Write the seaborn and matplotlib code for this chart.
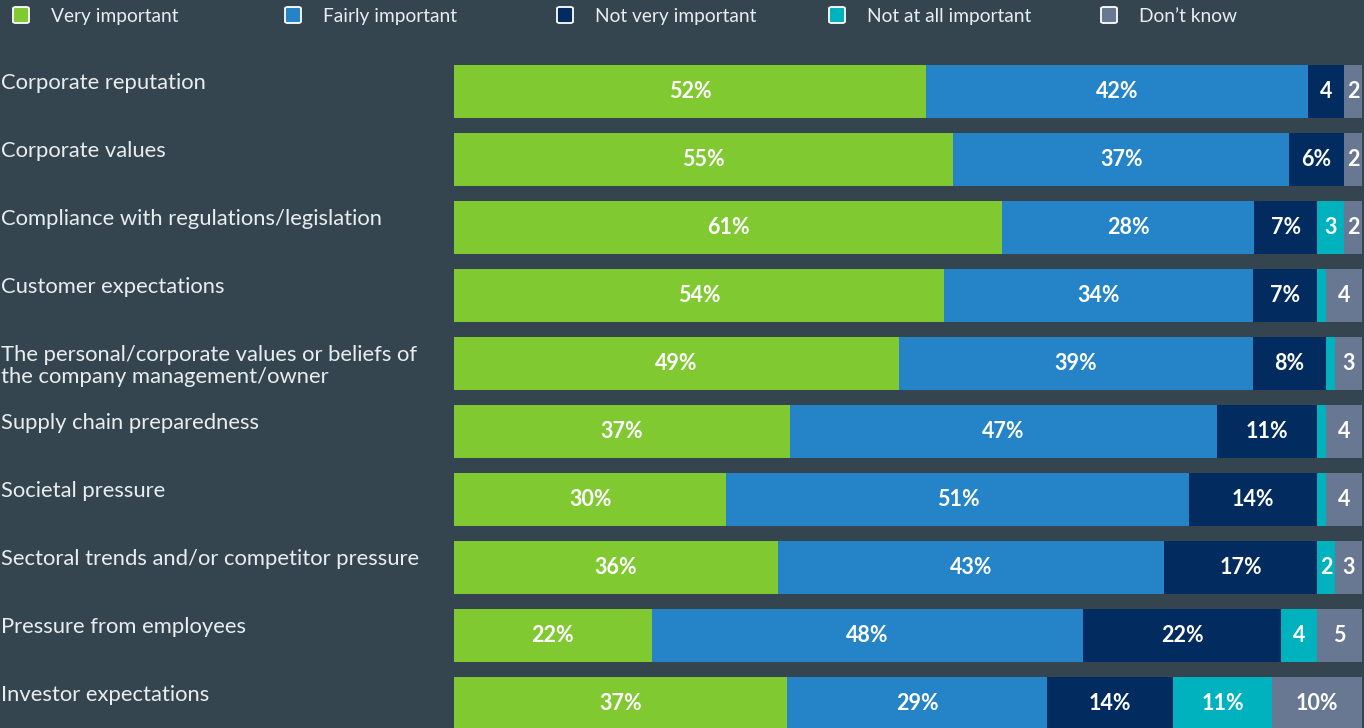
import matplotlib
matplotlib.use("Agg")
import matplotlib.pyplot as plt
from matplotlib.patches import FancyBboxPatch
from matplotlib.transforms import blended_transform_factory
import numpy as np
import pandas as pd
import seaborn as sns

# ---- data -------------------------------------------------------------
categories = [
    "Corporate reputation",
    "Corporate values",
    "Compliance with regulations/legislation",
    "Customer expectations",
    "The personal/corporate values or beliefs of\nthe company management/owner",
    "Supply chain preparedness",
    "Societal pressure",
    "Sectoral trends and/or competitor pressure",
    "Pressure from employees",
    "Investor expectations",
]
series_names = ["Very important", "Fairly important", "Not very important",
                "Not at all important", "Don\u2019t know"]
very_important = [52, 55, 61, 54, 49, 37, 30, 36, 22, 37]
fairly_important = [42, 37, 28, 34, 39, 47, 51, 43, 48, 29]
not_very_important = [4, 6, 7, 7, 8, 11, 14, 17, 22, 14]
not_at_all_important = [0, 0, 3, 1, 1, 1, 1, 2, 4, 11]
dont_know = [2, 2, 2, 4, 3, 4, 4, 3, 5, 10]

colors = ["#80c931", "#2584c7", "#022b5f", "#00b2be", "#687892"]
BG = "#34454f"
TEXT = "#e9edf0"

# ---- figure -----------------------------------------------------------
sns.set_theme(style="white")
plt.rcParams["font.family"] = ["Lato", "DejaVu Sans"]

W, H = 1364, 728
fig = plt.figure(figsize=(W / 100, H / 100), dpi=100, facecolor=BG)

# axes: bars span x 454..1362 px, row pitch 68 px with first row centred at 91.5 px
x0, x1 = 454, 1362
pitch = 68
top = 91.5 - pitch / 2
n = len(categories)
bottom = top + n * pitch
ax = fig.add_axes([x0 / W, (H - bottom) / H, (x1 - x0) / W, n * pitch / H])
ax.set_facecolor(BG)

values = np.array([very_important, fairly_important, not_very_important,
                   not_at_all_important, dont_know], dtype=float)
shares = values / values.sum(axis=0) * 100  # each bar fills the full width
cum = np.cumsum(shares, axis=0)

df = pd.DataFrame({"category": categories})
# draw cumulative layers from the outermost inwards so each sits on the previous
for k in range(len(series_names) - 1, -1, -1):
    df["end"] = cum[k]
    sns.barplot(data=df, x="end", y="category", orient="h", color=colors[k],
                saturation=1, width=0.78, linewidth=0, ax=ax)

ax.set_xlim(0, 100)
ax.set_ylim(n - 0.5, -0.5)
ax.set_xlabel("")
ax.set_ylabel("")
ax.set_xticks([])
ax.set_yticks([])
for s in ax.spines.values():
    s.set_visible(False)

# segment value labels
starts = cum - shares
for k in range(len(series_names)):
    for i in range(n):
        v = int(values[k, i])
        if v < 2:
            continue
        txt = f"{v}%" if v >= 6 else f"{v}"
        ax.text(starts[k, i] + shares[k, i] / 2, i, txt, ha="center", va="center",
                color="white", fontsize=15.5, fontweight="bold")

# category labels, left-aligned at the figure edge, near the top of each bar
trans = blended_transform_factory(fig.transFigure, ax.transData)
for i, cat in enumerate(categories):
    ax.text(0.0005, i - 0.39 + 8 / pitch, cat, transform=trans, ha="left", va="top",
            color=TEXT, fontsize=15.8, linespacing=1.15, clip_on=False)

# legend row across the top
for k, name in enumerate(series_names):
    sx = 12 + k * 272
    box = FancyBboxPatch(((sx + 1) / W, (H - 23) / H), 16 / W, 16 / H,
                         boxstyle="round,pad=0,rounding_size=0.002",
                         transform=fig.transFigure, facecolor=colors[k],
                         edgecolor="white", linewidth=1.3)
    fig.patches.append(box)
    fig.text((sx + 39) / W, (H - 22) / H, name, ha="left", va="baseline",
             color=TEXT, fontsize=13.8)

fig.savefig("out.png", dpi=100, facecolor=BG)
